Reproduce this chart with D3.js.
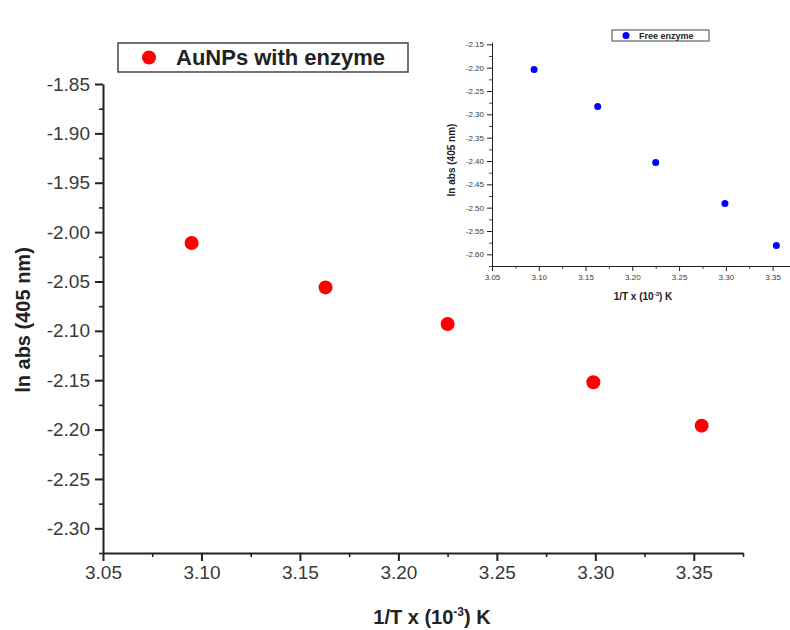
<!DOCTYPE html>
<html>
<head>
<meta charset="utf-8">
<script src="https://cdn.jsdelivr.net/npm/d3@7"></script>
<style>
body{margin:0;background:#fff;}
svg{display:block;font-family:"Liberation Sans",Arial,sans-serif;}
.axis path,.axis line{stroke:#222;}
</style>
</head>
<body>
<svg></svg>
<script>
// data: x = 1/T (10^-3 K^-1), y = ln abs at 405 nm
let invT = [3.095, 3.163, 3.225, 3.299, 3.354];
let lnAbsAuNP = [-2.011, -2.056, -2.093, -2.152, -2.196];//AuNPs with enzyme
let lnAbsFree = [-2.204, -2.283, -2.403, -2.491, -2.581];//free enzyme (inset)

let xTicks = [3.05, 3.10, 3.15, 3.20, 3.25, 3.30, 3.35];
let yTicksMain = [-1.85, -1.90, -1.95, -2.00, -2.05, -2.10, -2.15, -2.20, -2.25, -2.30];
let yTicksInset = [-2.15, -2.20, -2.25, -2.30, -2.35, -2.40, -2.45, -2.50, -2.55, -2.60];

const w = 790;
const h = 630;

let svg = d3.select("svg").attr("width", w).attr("height", h);

// minor ticks sit half way between the labelled ones
let minors = (ticks, step) => ticks.map(t => +(t + step).toFixed(3));

let drawPanel = (opt) => {
    let xScale = d3.scaleLinear().domain(opt.xDomain).range(opt.xRange);
    let yScale = d3.scaleLinear().domain(opt.yDomain).range(opt.yRange);
    let g = svg.append("g");

    // minor ticks first, no labels
    g.append("g").attr("class", "axis")
        .attr("transform", "translate(0," + opt.yRange[0] + ")")
        .call(d3.axisBottom(xScale).tickValues(minors(xTicks, 0.025)).tickSize(opt.minor).tickFormat(""))
        .call(a => a.select(".domain").remove())
        .selectAll("line").style("stroke-width", opt.lw * 0.8);
    g.append("g").attr("class", "axis")
        .attr("transform", "translate(" + opt.xRange[0] + ",0)")
        .call(d3.axisLeft(yScale).tickValues(minors(opt.yTicks, -0.025)).tickSize(opt.minor).tickFormat(""))
        .call(a => a.select(".domain").remove())
        .selectAll("line").style("stroke-width", opt.lw * 0.8);

    let xAxis = d3.axisBottom(xScale).tickValues(xTicks).tickSize(opt.major).tickSizeOuter(0)
        .tickPadding(opt.pad).tickFormat(d3.format(".2f"));
    let gx = g.append("g").attr("class", "axis")
        .attr("transform", "translate(0," + opt.yRange[0] + ")")
        .call(xAxis);

    let yAxis = d3.axisLeft(yScale).tickValues(opt.yTicks).tickSize(opt.major).tickSizeOuter(0)
        .tickPadding(opt.pad).tickFormat(d => d3.format(".2f")(d).replace("−", "-"));
    let gy = g.append("g").attr("class", "axis")
        .attr("transform", "translate(" + opt.xRange[0] + ",0)")
        .call(yAxis);

    [gx, gy].forEach(a => {
        a.selectAll("path,line").style("stroke-width", opt.lw);
        a.selectAll("text").style("font-size", opt.tickFont + "px").attr("fill", "#3a3a3a");
    });

    g.selectAll("circle")
        .data(opt.values)
        .enter()
        .append("circle")
        .attr("cx", (d, i) => xScale(invT[i]))
        .attr("cy", d => yScale(d))
        .attr("r", opt.r)
        .attr("fill", opt.color);

    // axis titles
    let xt = g.append("text")
        .attr("x", opt.xTitle[0]).attr("y", opt.xTitle[1])
        .attr("text-anchor", "middle")
        .style("font-size", opt.titleFont + "px").style("font-weight", "bold").attr("fill", "#222");
    xt.append("tspan").text("1/T x (10");
    xt.append("tspan").text("-3").style("font-size", (opt.titleFont * 0.6) + "px").attr("dy", -opt.titleFont * 0.4);
    xt.append("tspan").text(") K").attr("dy", opt.titleFont * 0.4);

    g.append("text")
        .attr("transform", "translate(" + opt.yTitle[0] + "," + opt.yTitle[1] + ") rotate(-90)")
        .attr("text-anchor", "middle")
        .style("font-size", opt.titleFont + "px").style("font-weight", "bold").attr("fill", "#222")
        .text("ln abs (405 nm)");

    // legend box
    let lg = g.append("g");
    lg.append("rect")
        .attr("x", opt.legend[0]).attr("y", opt.legend[1])
        .attr("width", opt.legend[2]).attr("height", opt.legend[3])
        .attr("fill", "#fff").attr("stroke", "#444").attr("stroke-width", opt.legendLw);
    lg.append("circle")
        .attr("cx", opt.legend[0] + opt.legendDot).attr("cy", opt.legend[1] + opt.legend[3] / 2)
        .attr("r", opt.r).attr("fill", opt.color);
    lg.append("text")
        .attr("x", opt.legend[0] + opt.legendText).attr("y", opt.legend[1] + opt.legend[3] / 2)
        .attr("dy", "0.36em")
        .style("font-size", opt.legendFont + "px").style("font-weight", "bold").attr("fill", "#222")
        .text(opt.label);
};

// main chart
drawPanel({
    xDomain: [3.05, 3.375], xRange: [103, 743],
    yDomain: [-2.325, -1.85], yRange: [553, 84],
    yTicks: yTicksMain, values: lnAbsAuNP,
    major: 8, minor: 4, pad: 5, lw: 2, tickFont: 19, titleFont: 20,
    r: 7, color: "#ff0000",
    xTitle: [432, 624], yTitle: [30, 320],
    legend: [118, 43, 290, 29], legendDot: 31, legendText: 58, legendFont: 22, legendLw: 1.5,
    label: "AuNPs with enzyme"
});

// inset: free enzyme
drawPanel({
    xDomain: [3.05, 3.375], xRange: [492, 796],
    yDomain: [-2.625, -2.145], yRange: [266, 42],
    yTicks: yTicksInset, values: lnAbsFree,
    major: 5, minor: 3, pad: 3, lw: 1, tickFont: 8, titleFont: 10,
    r: 3.5, color: "#0000ff",
    xTitle: [643, 300], yTitle: [455, 160],
    legend: [612, 30, 97, 11], legendDot: 14, legendText: 27, legendFont: 9, legendLw: 1,
    label: "Free enzyme"
});
</script>
</body>
</html>
